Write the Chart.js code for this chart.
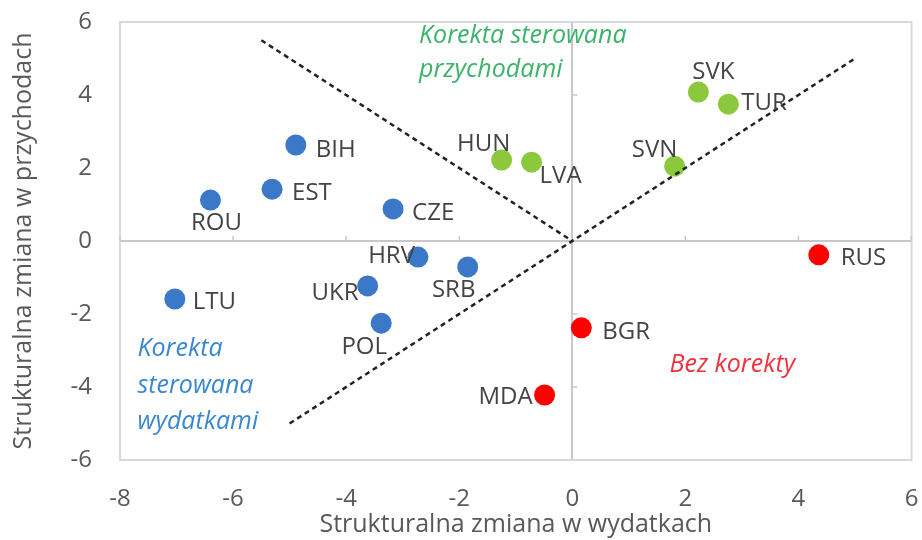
<!DOCTYPE html>
<html>
<head>
<meta charset="utf-8">
<script src="https://cdn.jsdelivr.net/npm/chart.js@4.4.0/dist/chart.umd.min.js"></script>
<style>
html, body { margin: 0; padding: 0; background: #fff; }
#wrap { width: 922px; height: 540px; }
</style>
</head>
<body>
<div id="wrap"><canvas id="chart"></canvas></div>
<script>
// Korekta sterowana wydatkami (niebieskie)
const expCountries = ['BIH', 'EST', 'ROU', 'CZE', 'HRV', 'SRB', 'UKR', 'LTU', 'POL']
const expX = [-4.89, -5.31, -6.40, -3.17, -2.73, -1.85, -3.62, -7.03, -3.38]
const expY = [2.63, 1.42, 1.12, 0.88, -0.44, -0.71, -1.23, -1.59, -2.25]

// Korekta sterowana przychodami (zielone)
const revCountries = ['HUN', 'LVA', 'SVK', 'TUR', 'SVN']
const revX = [-1.25, -0.72, 2.23, 2.76, 1.81]
const revY = [2.22, 2.16, 4.08, 3.75, 2.05]

// Bez korekty (czerwone)
const noneCountries = ['RUS', 'BGR', 'MDA']
const noneX = [4.36, 0.16, -0.49]
const noneY = [-0.38, -2.38, -4.22]

// linie podziału
const divider1X = [-5.5, 0]
const divider1Y = [5.5, 0]
const divider2X = [-5, 5]
const divider2Y = [-5, 5]

const axisTicks = [-8, -6, -4, -2, 0, 2, 4, 6]

const FONT = '"Open Sans", "DejaVu Sans", sans-serif'

// przesunięcie etykiety względem punktu: [dx, dy, wyrównanie]
const labelPlacement = {
	BIH: [20, 5, 'left'], EST: [20, 4, 'left'], ROU: [6, 23, 'center'],
	CZE: [19, 4, 'left'], HRV: [-3, -1, 'right'], SRB: [-14, 23, 'center'],
	UKR: [-9, 7, 'right'], LTU: [18, 3, 'left'], POL: [-17, 24, 'center'],
	HUN: [-18, -16, 'center'], LVA: [8, 14, 'left'], SVK: [15, -20, 'center'],
	TUR: [13, -1, 'left'], SVN: [-20, -16, 'center'], RUS: [22, 3, 'left'],
	BGR: [21, 4, 'left'], MDA: [-12, 2, 'right']
}

// opisy obszarów (pozycje w jednostkach osi)
const notes = [
	{ lines: ['Korekta sterowana', 'przychodami'], x: -2.71, y: [5.62, 4.68], color: '#3DB26B' },
	{ lines: ['Korekta', 'sterowana', 'wydatkami'], x: -7.69, y: [-2.96, -3.97, -4.96], color: '#3A86D0' },
	{ lines: ['Bez korekty'], x: 1.72, y: [-3.40], color: '#F0323C' }
]

function toPoints(xs, ys) {
	return xs.map((x, i) => ({ x, y: ys[i] }))
}

const frameAndLabels = {
	id: 'frameAndLabels',
	beforeDatasetsDraw(chart) {
		const { ctx, chartArea: a, scales: { x, y } } = chart
		ctx.save()
		ctx.strokeStyle = '#D9D9D9'
		ctx.lineWidth = 2
		ctx.strokeRect(a.left, a.top, a.right - a.left, a.bottom - a.top)
		// małe kreski podziałki na osiach zerowych
		ctx.strokeStyle = '#C8C8C8'
		ctx.lineWidth = 1.5
		const y0 = y.getPixelForValue(0)
		const x0 = x.getPixelForValue(0)
		axisTicks.forEach((v) => {
			if (v === 0) return
			const px = x.getPixelForValue(v)
			ctx.beginPath(); ctx.moveTo(px, y0); ctx.lineTo(px, y0 - 5); ctx.stroke()
			if (v > -6 && v < 6) {
				const py = y.getPixelForValue(v)
				ctx.beginPath(); ctx.moveTo(x0, py); ctx.lineTo(x0 + 5, py); ctx.stroke()
			}
		})
		ctx.restore()
	},
	afterDatasetsDraw(chart) {
		const { ctx, scales: { x, y } } = chart
		ctx.save()
		ctx.textBaseline = 'middle'
		ctx.font = '24px ' + FONT
		ctx.fillStyle = '#444'
		chart.data.datasets.forEach((ds, di) => {
			if (!ds.countries) return
			const meta = chart.getDatasetMeta(di)
			meta.data.forEach((pt, i) => {
				const name = ds.countries[i]
				const [dx, dy, align] = labelPlacement[name]
				ctx.textAlign = align
				ctx.fillText(name, pt.x + dx, pt.y + dy)
			})
		})
		ctx.font = 'italic 25px ' + FONT
		ctx.textAlign = 'left'
		notes.forEach((n) => {
			ctx.fillStyle = n.color
			n.lines.forEach((line, i) => {
				ctx.fillText(line, x.getPixelForValue(n.x), y.getPixelForValue(n.y[i]))
			})
		})
		ctx.restore()
	}
}

const dividerStyle = {
	type: 'line',
	borderColor: '#222',
	borderWidth: 2.5,
	borderDash: [5, 4],
	pointRadius: 0,
	fill: false,
	showLine: true
}

new Chart(document.getElementById('chart'), {
	type: 'scatter',
	data: {
		datasets: [
			{ ...dividerStyle, data: toPoints(divider1X, divider1Y) },
			{ ...dividerStyle, data: toPoints(divider2X, divider2Y) },
			{ data: toPoints(expX, expY), countries: expCountries, backgroundColor: '#3C78C8', borderWidth: 0, pointRadius: 10.5 },
			{ data: toPoints(revX, revY), countries: revCountries, backgroundColor: '#8CC83C', borderWidth: 0, pointRadius: 10.5 },
			{ data: toPoints(noneX, noneY), countries: noneCountries, backgroundColor: '#FF0000', borderWidth: 0, pointRadius: 10.5 }
		]
	},
	options: {
		responsive: true,
		maintainAspectRatio: false,
		animation: false,
		layout: { padding: { left: 0, right: 2, top: 22, bottom: 0 } },
		plugins: { legend: { display: false }, tooltip: { enabled: false } },
		scales: {
			x: {
				type: 'linear', min: -8, max: 6,
				afterBuildTicks: (s) => { s.ticks = axisTicks.map((v) => ({ value: v })) },
				afterFit: (s) => { s.height = 80; s.paddingLeft = 0; s.paddingRight = 0 },
				grid: { drawTicks: false, color: (c) => c.tick && c.tick.value === 0 ? '#C8C8C8' : 'transparent', lineWidth: 2 },
				border: { display: false },
				ticks: { padding: 25, color: '#595959', font: { family: FONT, size: 24 } },
				title: { display: true, text: 'Strukturalna zmiana w wydatkach', color: '#595959', padding: 0, font: { family: FONT, size: 25 } }
			},
			y: {
				type: 'linear', min: -6, max: 6,
				ticks: { stepSize: 2, padding: 28, color: '#595959', font: { family: FONT, size: 24 } },
				afterFit: (s) => { s.width = 120; s.paddingTop = 0; s.paddingBottom = 0 },
				grid: { drawTicks: false, color: (c) => c.tick && c.tick.value === 0 ? '#C8C8C8' : 'transparent', lineWidth: 2 },
				border: { display: false },
				title: { display: true, text: 'Strukturalna zmiana w przychodach', color: '#595959', padding: { top: 9, bottom: 0 }, font: { family: FONT, size: 25 } }
			}
		}
	},
	plugins: [frameAndLabels]
})
</script>
</body>
</html>
